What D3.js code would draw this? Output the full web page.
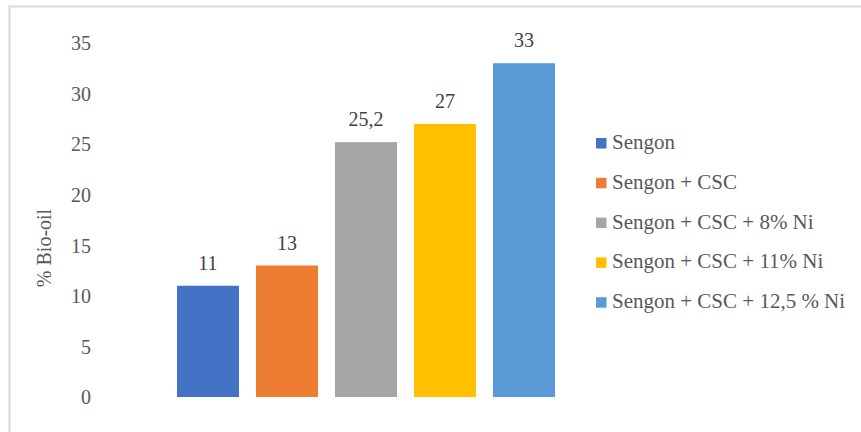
<!DOCTYPE html>
<html><head><meta charset="utf-8">
<script src="https://cdn.jsdelivr.net/npm/d3@7"></script>
<style>body{margin:0;background:#fff}svg{display:block}
svg text{font-family:"Liberation Serif","Times New Roman",Tinos,Times,"DejaVu Serif",serif;}</style>
</head><body>
<svg id="c" width="861" height="432"></svg>
<script>
const categories = ["Sengon", "Sengon + CSC", "Sengon + CSC + 8% Ni", "Sengon + CSC + 11% Ni", "Sengon + CSC + 12,5 % Ni"];
const values = [11, 13, 25.2, 27, 33];
const valueLabels = ["11", "13", "25,2", "27", "33"];
const colors = ["#4472C4", "#ED7D31", "#A5A5A5", "#FFC000", "#5B9BD5"];
const yTicks = [0, 5, 10, 15, 20, 25, 30, 35];
const yTitle = "% Bio-oil";

const svg = d3.select("#c");

// outer border
svg.append("rect").attr("x", 9.5).attr("y", 6.5).attr("width", 900).attr("height", 500)
  .attr("fill", "none").attr("stroke", "#d9d9d9").attr("stroke-width", 2);

const y = d3.scaleLinear().domain([0, 35]).range([397, 43]);
const x = d3.scaleBand().domain(categories).range([168.5, 563.5]).paddingInner(0.215).paddingOuter(0.1075);

const yAxis = d3.axisLeft(y).tickValues(yTicks).tickSize(0).tickPadding(0);
const gy = svg.append("g").attr("transform", "translate(91,0)").call(yAxis);
gy.select(".domain").remove();
gy.attr("font-family", null).attr("font-size", null);
gy.selectAll("text").style("font-size", "20px").attr("fill", "#595959").attr("dy", "0.34em");

svg.selectAll("rect.bar").data(categories).enter().append("rect").attr("class", "bar")
  .attr("x", d => x(d)).attr("width", x.bandwidth())
  .attr("y", (d, i) => y(values[i])).attr("height", (d, i) => y(0) - y(values[i]))
  .attr("fill", (d, i) => colors[i]);

svg.selectAll("text.lab").data(categories).enter().append("text").attr("class", "lab")
  .attr("x", d => x(d) + x.bandwidth() / 2)
  .attr("y", (d, i) => y(values[i]) - 16)
  .attr("text-anchor", "middle").style("font-size", "20px").attr("fill", "#404040")
  .text((d, i) => valueLabels[i]);

svg.append("text").attr("transform", "translate(51,248) rotate(-90)")
  .attr("text-anchor", "middle").style("font-size", "20px").attr("fill", "#595959")
  .text(yTitle);

const leg = svg.selectAll("g.leg").data(categories).enter().append("g").attr("class", "leg")
  .attr("transform", (d, i) => `translate(596,${138 + i * 39.8})`);
leg.append("rect").attr("width", 10.5).attr("height", 10.5).attr("fill", (d, i) => colors[i]);
leg.append("text").attr("x", 16).attr("y", 11).style("font-size", "21px")
  .attr("fill", "#595959").text(d => d);
</script>
</body></html>
